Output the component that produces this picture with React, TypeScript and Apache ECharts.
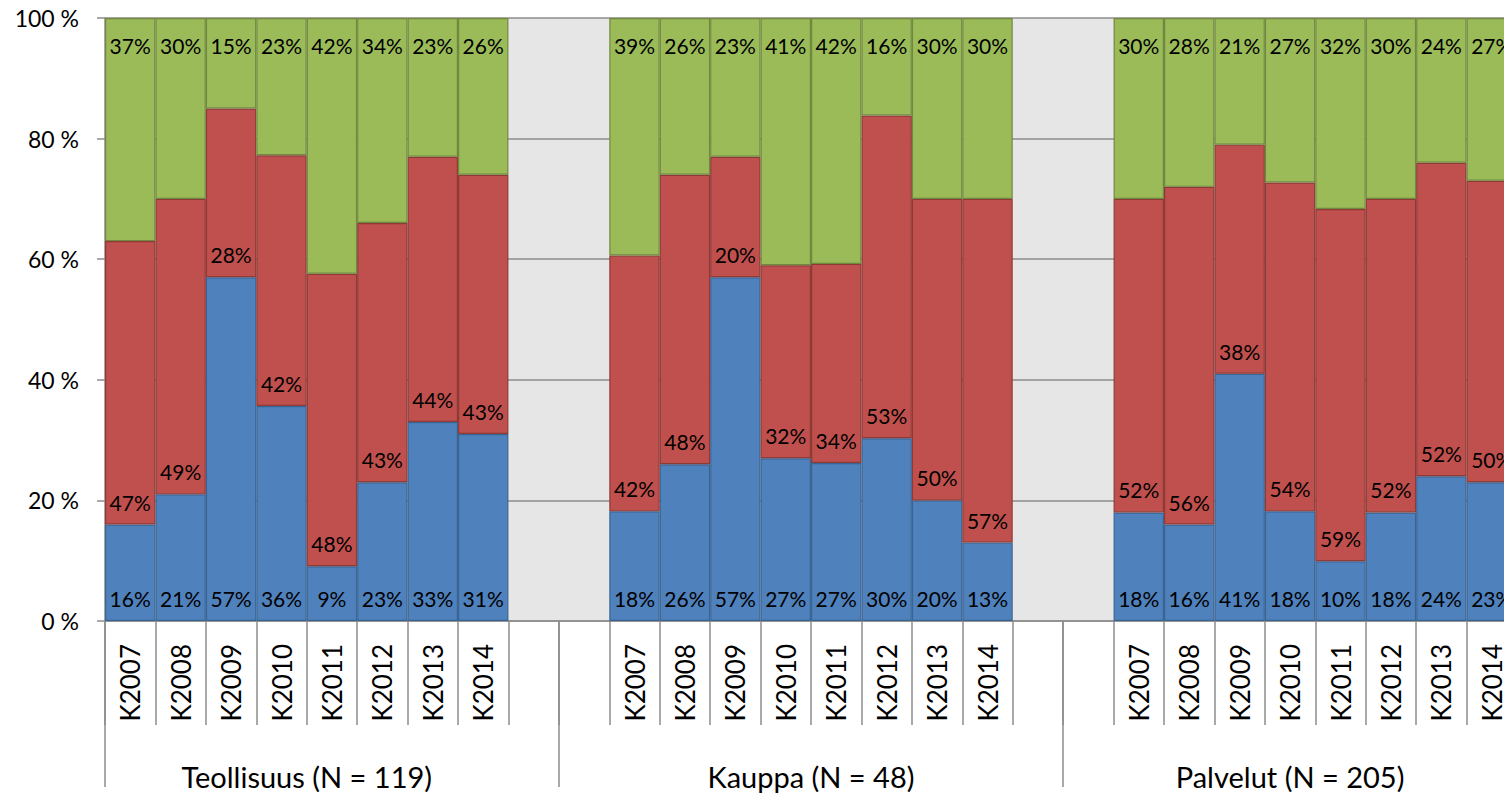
import React, { useEffect, useRef } from "react";
import * as echarts from "echarts";

const years = ["K2007", "K2008", "K2009", "K2010", "K2011", "K2012", "K2013", "K2014"];
const groupNames = ["Teollisuus (N = 119)", "Kauppa (N = 48)", "Palvelut (N = 205)"];
const gapCount = 2;

// percentages as printed in the labels (blue = bottom, red = middle, green = top)
const blueTeollisuus = [16, 21, 57, 36, 9, 23, 33, 31];
const redTeollisuus = [47, 49, 28, 42, 48, 43, 44, 43];
const greenTeollisuus = [37, 30, 15, 23, 42, 34, 23, 26];

const blueKauppa = [18, 26, 57, 27, 27, 30, 20, 13];
const redKauppa = [42, 48, 20, 32, 34, 53, 50, 57];
const greenKauppa = [39, 26, 23, 41, 42, 16, 30, 30];

const bluePalvelut = [18, 16, 41, 18, 10, 18, 24, 23];
const redPalvelut = [52, 56, 38, 54, 59, 52, 52, 50];
const greenPalvelut = [30, 28, 21, 27, 32, 30, 24, 27];

const yTicks = [0, 20, 40, 60, 80, 100];

const FONT = "Lato";
const GREY = "#8C8C8C";

export default function App() {
  const ref = useRef<HTMLDivElement>(null);

  useEffect(() => {
    if (!ref.current) return;
    const chart = echarts.init(ref.current, null, { renderer: "svg" });

    const groupsBlue = [blueTeollisuus, blueKauppa, bluePalvelut];
    const groupsRed = [redTeollisuus, redKauppa, redPalvelut];
    const groupsGreen = [greenTeollisuus, greenKauppa, greenPalvelut];

    const categories: string[] = [];
    const rawB: (number | null)[] = [];
    const rawR: (number | null)[] = [];
    const rawG: (number | null)[] = [];
    const shareB: (number | null)[] = [];
    const shareR: (number | null)[] = [];
    const shareG: (number | null)[] = [];
    const boundaries: number[] = [0];
    const labelCenters: number[] = [];

    groupsBlue.forEach((bArr, gi) => {
      const start = categories.length;
      bArr.forEach((b, i) => {
        const r = groupsRed[gi][i];
        const g = groupsGreen[gi][i];
        const sum = b + r + g;
        categories.push(years[i]);
        rawB.push(b);
        rawR.push(r);
        rawG.push(g);
        shareB.push((b / sum) * 100);
        shareR.push((r / sum) * 100);
        shareG.push((g / sum) * 100);
      });
      const end = categories.length;
      labelCenters.push(gi === 2 ? (start - 1 + end) / 2 : (start + end) / 2);
      if (gi < groupsBlue.length - 1) {
        for (let k = 0; k < gapCount; k++) {
          categories.push("");
          rawB.push(null);
          rawR.push(null);
          rawG.push(null);
          shareB.push(null);
          shareR.push(null);
          shareG.push(null);
          if (k === 0) boundaries.push(categories.length);
        }
      }
    });
    boundaries.push(categories.length);
    const nCats = categories.length;

    const labelBase = {
      show: true,
      fontFamily: FONT,
      fontSize: 21,
      color: "#000",
    };

    const mkSeries = (
      name: string,
      data: (number | null)[],
      raw: (number | null)[],
      color: string,
      border: string,
      position: string,
      distance: number
    ) => ({
      name,
      type: "bar",
      stack: "total",
      barCategoryGap: "0%",
      data,
      itemStyle: { color, borderColor: border, borderWidth: 1.2 },
      label: {
        ...labelBase,
        position,
        distance,
        formatter: (p: any) => (raw[p.dataIndex] == null ? "" : raw[p.dataIndex] + "%"),
      },
    });

    const groupLabelMap: Record<string, string> = {};
    labelCenters.forEach((c, i) => {
      groupLabelMap[String(c)] = groupNames[i];
    });

    chart.setOption({
      animation: false,
      grid: {
        left: 105,
        top: 18,
        width: 1412,
        height: 603,
        show: true,
        backgroundColor: "#E6E6E6",
        borderWidth: 0,
        containLabel: false,
        outerBoundsMode: "none",
      },
      xAxis: [
        {
          type: "category",
          data: categories,
          boundaryGap: true,
          axisLine: { show: true, lineStyle: { color: GREY, width: 1.5 } },
          axisTick: { show: true, interval: 0, length: 104, lineStyle: { color: GREY, width: 1.5 } },
          axisLabel: {
            interval: 0,
            rotate: 90,
            margin: 23,
            fontFamily: FONT,
            fontSize: 26,
            color: "#000",
          },
          splitLine: { show: false },
        },
        {
          type: "value",
          min: 0,
          max: nCats,
          position: "bottom",
          axisLine: { show: false },
          splitLine: { show: false },
          axisTick: {
            show: true,
            customValues: boundaries,
            length: 166,
            lineStyle: { color: GREY, width: 1.5 },
          },
          axisLabel: {
            customValues: labelCenters,
            margin: 141,
            fontFamily: FONT,
            fontSize: 29,
            color: "#000",
            formatter: (v: number) => groupLabelMap[String(v)] ?? "",
          },
        },
      ],
      yAxis: {
        type: "value",
        min: 0,
        max: 100,
        interval: 20,
        axisLine: { show: true, lineStyle: { color: GREY, width: 1.5 } },
        axisTick: { show: true, length: 8, lineStyle: { color: GREY, width: 1.5 } },
        splitLine: { show: true, lineStyle: { color: GREY, width: 1.5 } },
        axisLabel: {
          margin: 26,
          fontFamily: FONT,
          fontSize: 23,
          color: "#000",
          formatter: (v: number) => (yTicks.includes(v) ? `${v} %` : ""),
        },
      },
      series: [
        mkSeries("Sininen", shareB, rawB, "#4F81BD", "#3A6593", "insideBottom", 12),
        mkSeries("Punainen", shareR, rawR, "#C0504D", "#8E3B38", "insideBottom", 12),
        mkSeries("Vihreä", shareG, rawG, "#9BBB59", "#71893F", "insideTop", 17),
      ],
    });

    return () => chart.dispose();
  }, []);

  return (
    <div
      ref={ref}
      style={{ position: "absolute", left: 0, top: 0, width: 1504, height: 797, background: "#fff" }}
    />
  );
}
